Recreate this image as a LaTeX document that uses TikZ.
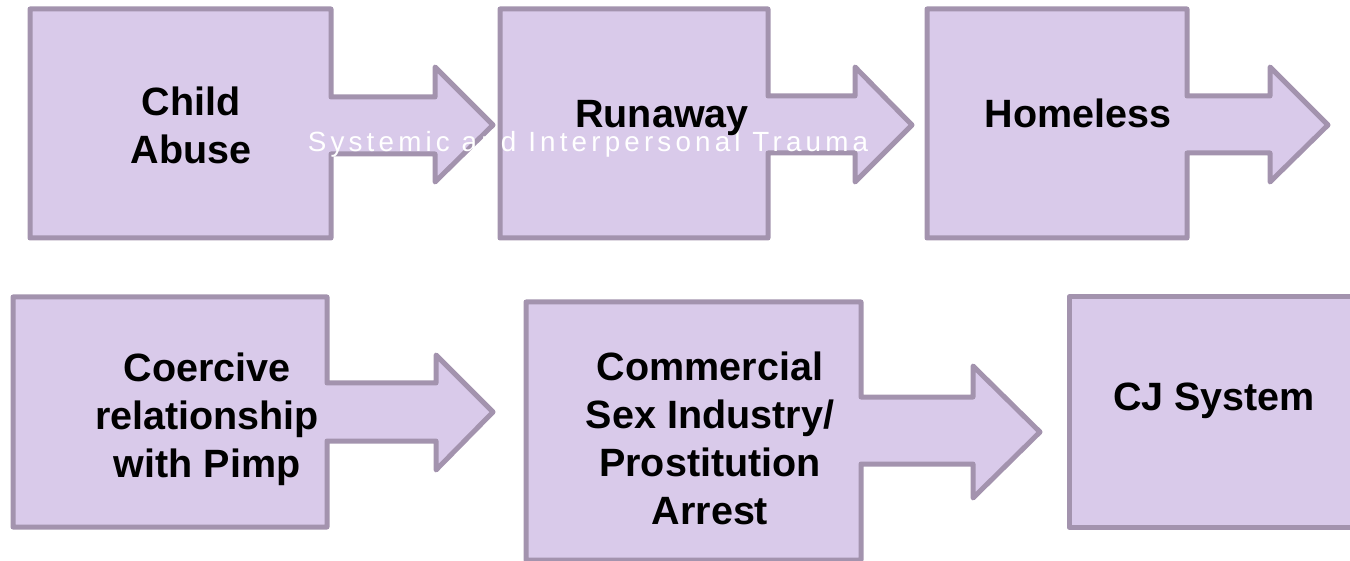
\documentclass[tikz,border=0pt]{standalone}
\usepackage{fontspec}
\setmainfont{Liberation Sans}
\newfontfamily\traumafont[LetterSpace=15]{Liberation Sans}
\usepackage{tikz}
\usetikzlibrary{positioning}
\definecolor{stagefill}{HTML}{D9CAEA}
\definecolor{stageline}{HTML}{A393AE}
\tikzstyle{stage} = [draw=stageline, fill=stagefill, line width=2.5pt, line join=round]

\begin{document}
\begin{tikzpicture}[x=0.5pt, y=-0.5pt,
    stagetext/.style={font=\bfseries\fontsize{19.75}{24}\selectfont, align=center, inner sep=0pt},
    traumatext/.style={font=\traumafont\fontsize{13.9}{17}\selectfont, text=white, inner sep=0pt}]

    \clip (0,0) rectangle (1350,561);

    % Top row
    \draw[stage] (30,9) -- (331,9) -- (331,97) -- (435,97) -- (435,67) -- (493,125)
        -- (435,182) -- (435,154) -- (331,154) -- (331,238) -- (30,238) -- cycle;
    \draw[stage] (500,9) -- (768,9) -- (768,96) -- (855,96) -- (855,67) -- (912,125)
        -- (855,182) -- (855,153) -- (768,153) -- (768,238) -- (500,238) -- cycle;
    \draw[stage] (927,9) -- (1187,9) -- (1187,96) -- (1270,96) -- (1270,67) -- (1328,125)
        -- (1270,182) -- (1270,153) -- (1187,153) -- (1187,238) -- (927,238) -- cycle;

    % Bottom row
    \draw[stage] (13,297) -- (327,297) -- (327,383) -- (436,383) -- (436,355) -- (493,412)
        -- (436,470) -- (436,441) -- (327,441) -- (327,527) -- (13,527) -- cycle;
    \draw[stage] (526,302) -- (861,302) -- (861,397) -- (973,397) -- (973,366) -- (1040,432)
        -- (973,498) -- (973,464) -- (861,464) -- (861,560) -- (526,560) -- cycle;
    \draw[stage] (1069,297) -- (1370,297) -- (1370,527) -- (1069,527) -- cycle;

    % Background caption
    \node[traumatext, anchor=base] (trauma) at (588,152) {Systemic and Interpersonal Trauma};

    % Stage labels
    \node[stagetext] (abuse) at (191,125) {Child\\Abuse};
    \node[stagetext, anchor=base] (runaway) at (662,128) {Runaway};
    \node[stagetext, anchor=base] (homeless) at (1078,128) {Homeless};
    \node[stagetext] (pimp) at (207,419) {Coercive\\relationship\\with Pimp};
    \node[stagetext] (commercial) at (710,438) {Commercial\\Sex Industry/\\Prostitution\\Arrest};
    \node[stagetext, anchor=base] (cj) at (1214,410) {CJ System};
\end{tikzpicture}
\end{document}
